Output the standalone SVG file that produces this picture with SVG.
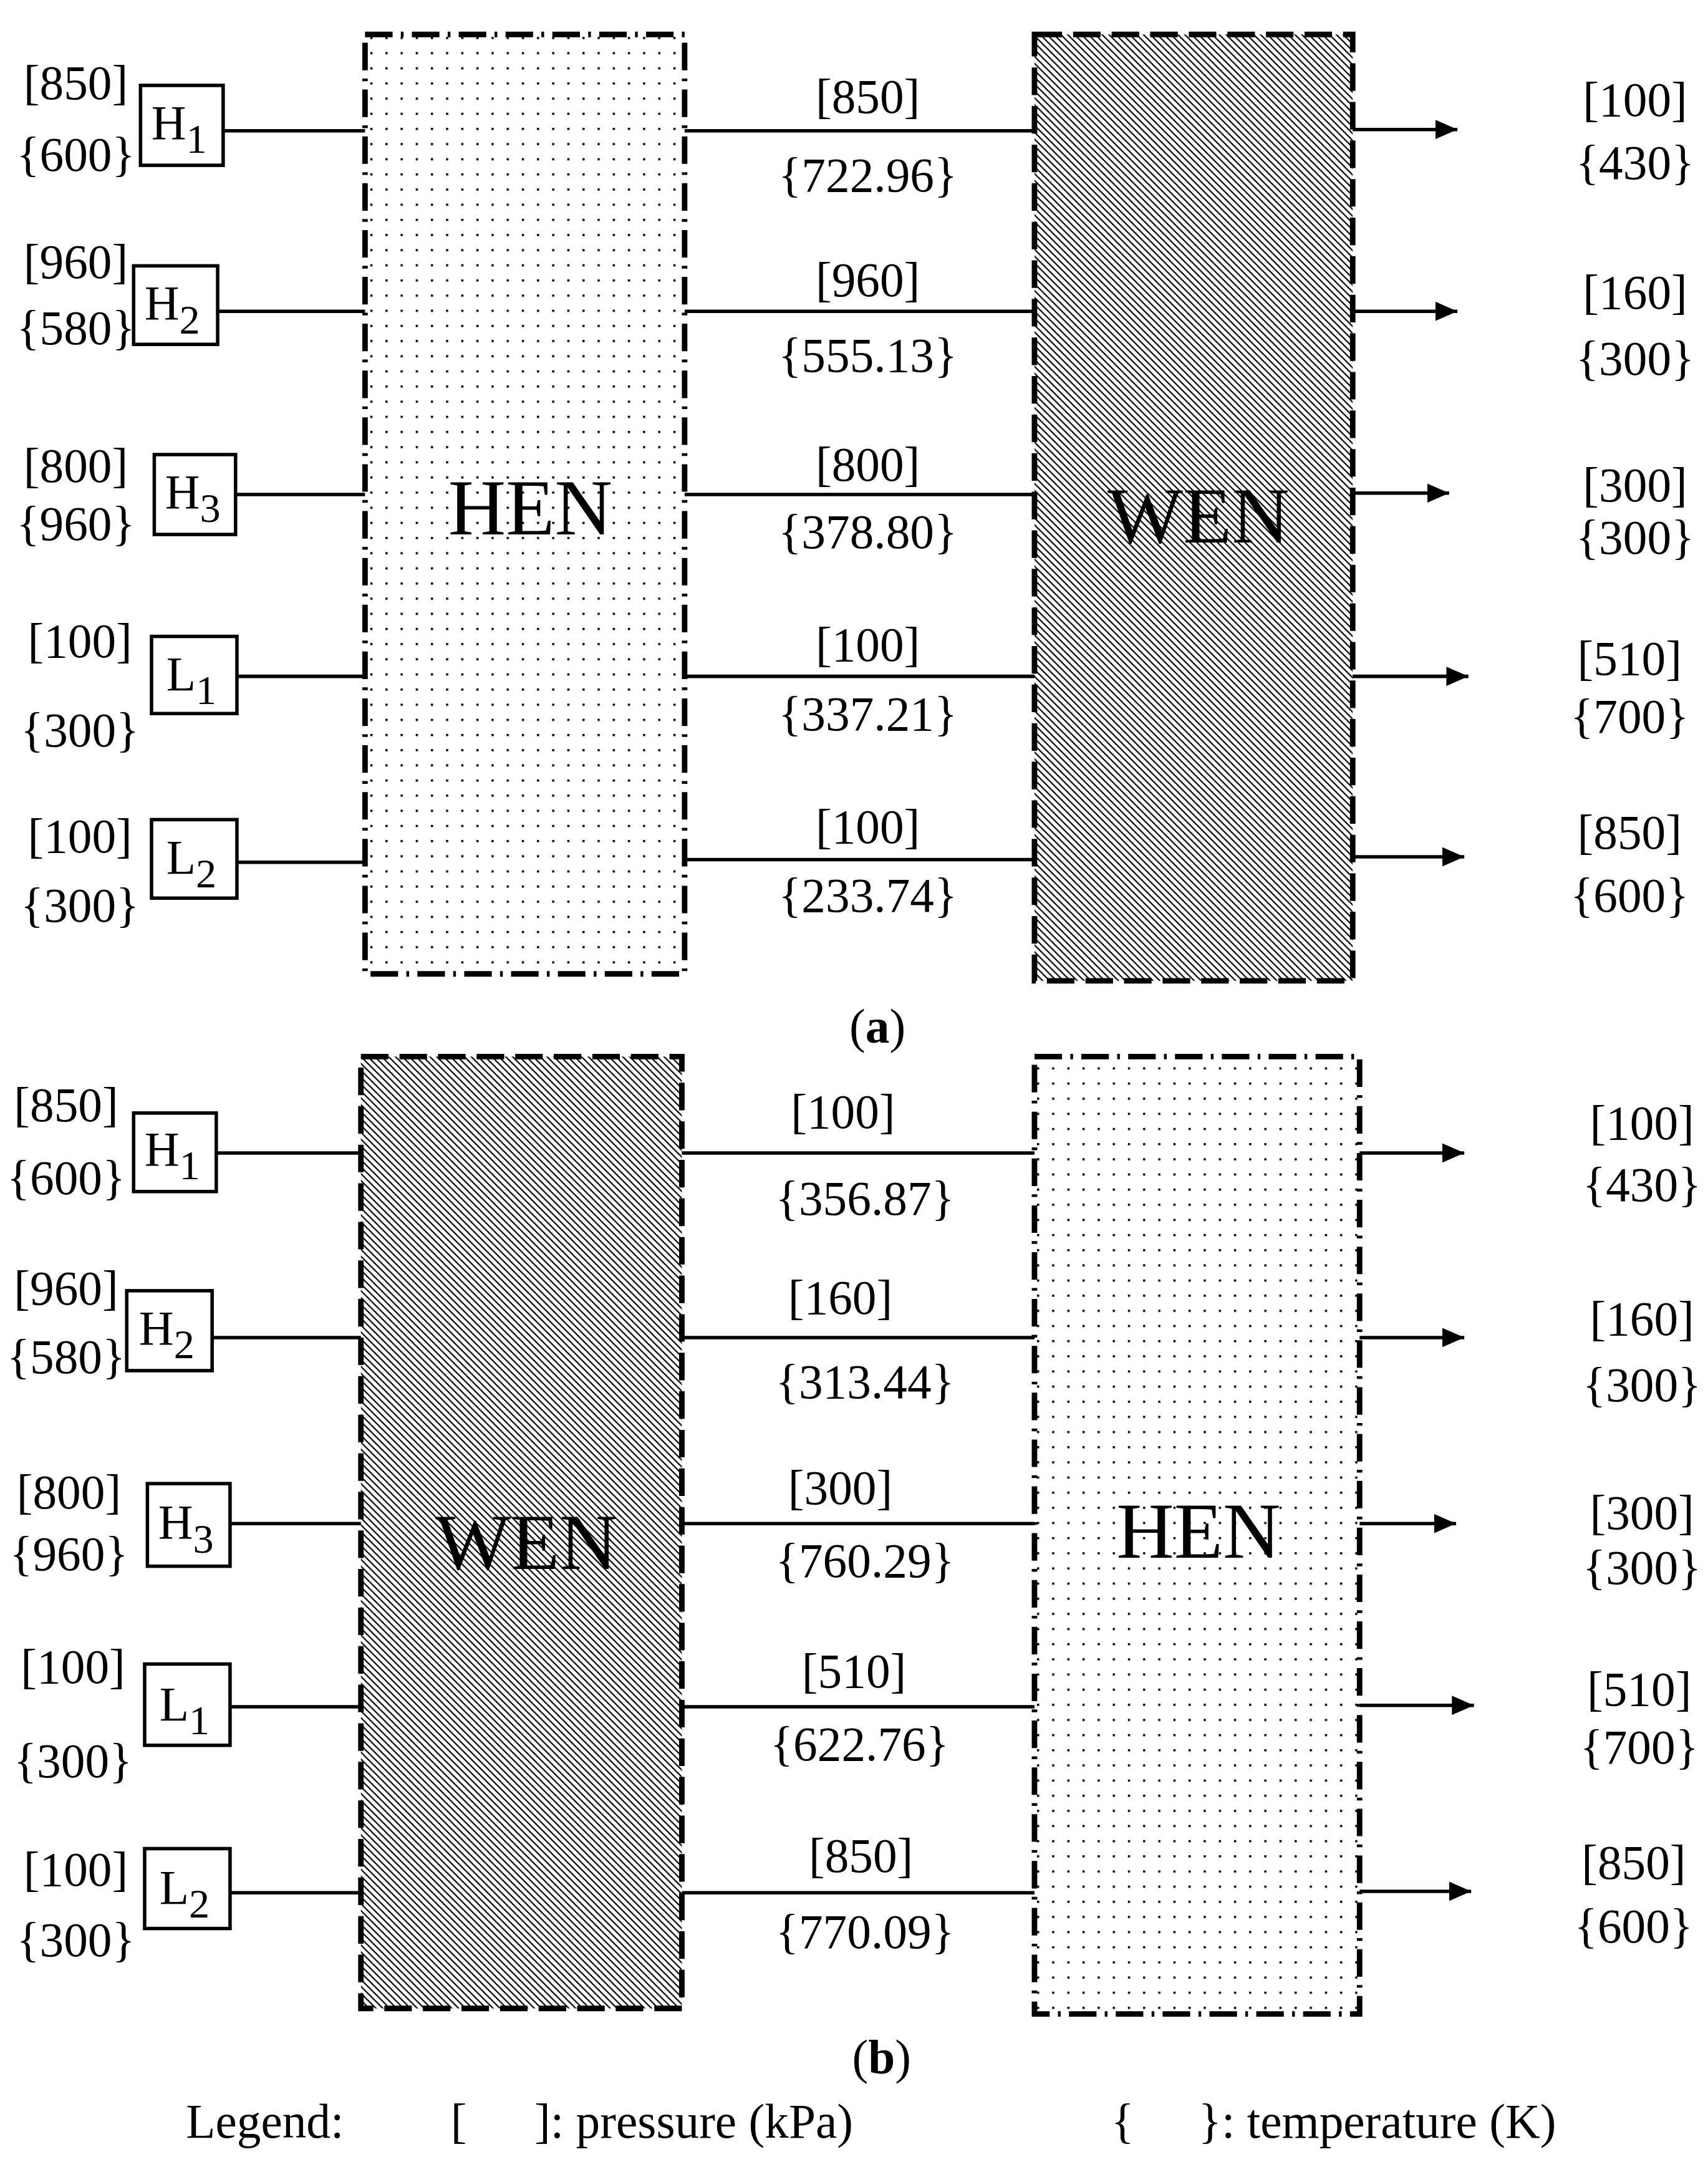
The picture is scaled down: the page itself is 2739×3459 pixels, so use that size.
<svg xmlns="http://www.w3.org/2000/svg" width="2739" height="3459" viewBox="0 0 2739 3459">
<defs>
<pattern id="dots" patternUnits="userSpaceOnUse" width="11" height="11"><rect x="4.8" y="4.8" width="1.6" height="1.6" fill="#000"/></pattern>
<pattern id="hatch" patternUnits="userSpaceOnUse" width="5" height="5"><path d="M-1,-1 L6,6 M-1,4 L1,6 M4,-1 L6,1" stroke="#000" stroke-width="1"/></pattern>
<marker id="arr" markerUnits="userSpaceOnUse" markerWidth="16" markerHeight="14" refX="16" refY="7" orient="auto"><path d="M0,0 L16,7 L0,14 Z" fill="#000"/></marker>
<style>
text{font-family:"Liberation Serif","Times New Roman",serif;font-size:35px;fill:#000;text-anchor:middle}
.big{font-size:58px}
.box{fill:#fff;stroke:#000;stroke-width:2.5}
.blk{stroke-width:4;stroke:#000;stroke-dasharray:20,8}
.hen{stroke-dasharray:20,6,2,6}
.ln{stroke:#000;stroke-width:2.5;fill:none}
.sub{font-size:30px}
</style>
</defs>
<rect width="2739" height="3459" fill="#fff"/>
<g transform="scale(2.209)">
<g id="a-blocks">
<g id="a-HEN"><rect x="265" y="25" width="232" height="682" fill="url(#dots)" class="blk hen"/><text x="385" y="388" class="big">HEN</text></g>
<g id="a-WEN"><rect x="751" y="25" width="231" height="687" fill="url(#hatch)" class="blk"/><text x="870" y="394" class="big">WEN</text></g>
</g>
<g id="a-inputs">
<g id="a-H1"><rect x="102" y="62" width="60" height="58" class="box"/><text x="130" y="101">H<tspan class="sub" dy="10">1</tspan></text><text x="55" y="72">[850]</text><text x="55" y="124">{600}</text></g>
<g id="a-H2"><rect x="97" y="193" width="61" height="57" class="box"/><text x="125" y="232">H<tspan class="sub" dy="10">2</tspan></text><text x="55" y="202">[960]</text><text x="55" y="250">{580}</text></g>
<g id="a-H3"><rect x="112" y="330" width="59" height="58" class="box"/><text x="140" y="369">H<tspan class="sub" dy="10">3</tspan></text><text x="55" y="350">[800]</text><text x="55" y="392">{960}</text></g>
<g id="a-L1"><rect x="110" y="462" width="62" height="56" class="box"/><text x="139" y="501">L<tspan class="sub" dy="10">1</tspan></text><text x="58" y="477">[100]</text><text x="58" y="542">{300}</text></g>
<g id="a-L2"><rect x="110" y="595" width="62" height="57" class="box"/><text x="139" y="634">L<tspan class="sub" dy="10">2</tspan></text><text x="58" y="619">[100]</text><text x="58" y="669">{300}</text></g>
</g>
<g id="a-mid-labels">
<text x="630" y="82">[850]</text><text x="630" y="139">{722.96}</text>
<text x="630" y="215">[960]</text><text x="630" y="270">{555.13}</text>
<text x="630" y="349">[800]</text><text x="630" y="398">{378.80}</text>
<text x="630" y="480">[100]</text><text x="630" y="530">{337.21}</text>
<text x="630" y="612">[100]</text><text x="630" y="662">{233.74}</text>
</g>
<g id="a-outputs">
<text x="1187" y="84">[100]</text><text x="1187" y="130">{430}</text>
<text x="1187" y="224">[160]</text><text x="1187" y="272">{300}</text>
<text x="1187" y="364">[300]</text><text x="1187" y="402">{300}</text>
<text x="1183" y="490">[510]</text><text x="1183" y="532">{700}</text>
<text x="1183" y="616">[850]</text><text x="1183" y="662">{600}</text>
</g>
<g id="b-blocks">
<g id="b-WEN"><rect x="262" y="767" width="233" height="691" fill="url(#hatch)" class="blk"/><text x="382" y="1139" class="big">WEN</text></g>
<g id="b-HEN"><rect x="751" y="767" width="236" height="695" fill="url(#dots)" class="blk hen"/><text x="870" y="1131" class="big">HEN</text></g>
</g>
<g id="b-inputs">
<g id="b-H1"><rect x="97" y="808" width="60" height="57" class="box"/><text x="125" y="846">H<tspan class="sub" dy="10">1</tspan></text><text x="48" y="814">[850]</text><text x="48" y="867">{600}</text></g>
<g id="b-H2"><rect x="92" y="937" width="62" height="58" class="box"/><text x="121" y="976">H<tspan class="sub" dy="10">2</tspan></text><text x="48" y="947">[960]</text><text x="48" y="997">{580}</text></g>
<g id="b-H3"><rect x="107" y="1077" width="60" height="60" class="box"/><text x="135" y="1117">H<tspan class="sub" dy="10">3</tspan></text><text x="50" y="1095">[800]</text><text x="50" y="1140">{960}</text></g>
<g id="b-L1"><rect x="105" y="1208" width="62" height="59" class="box"/><text x="134" y="1249">L<tspan class="sub" dy="10">1</tspan></text><text x="53" y="1222">[100]</text><text x="53" y="1290">{300}</text></g>
<g id="b-L2"><rect x="105" y="1342" width="62" height="58" class="box"/><text x="134" y="1382">L<tspan class="sub" dy="10">2</tspan></text><text x="55" y="1369">[100]</text><text x="55" y="1420">{300}</text></g>
</g>
<g id="b-mid-labels">
<text x="612" y="819">[100]</text><text x="628" y="882">{356.87}</text>
<text x="610" y="954">[160]</text><text x="628" y="1015">{313.44}</text>
<text x="610" y="1092">[300]</text><text x="628" y="1145">{760.29}</text>
<text x="620" y="1225">[510]</text><text x="624" y="1278">{622.76}</text>
<text x="625" y="1359">[850]</text><text x="628" y="1414">{770.09}</text>
</g>
<g id="b-outputs">
<text x="1192" y="827">[100]</text><text x="1192" y="872">{430}</text>
<text x="1192" y="969">[160]</text><text x="1192" y="1017">{300}</text>
<text x="1192" y="1110">[300]</text><text x="1192" y="1150">{300}</text>
<text x="1190" y="1238">[510]</text><text x="1190" y="1280">{700}</text>
<text x="1186" y="1364">[850]</text><text x="1186" y="1410">{600}</text>
</g>
<g id="connectors" class="ln">
<path d="M162,95H265M158,226H265M171,359H265M172,491H265M172,626H265"/>
<path d="M497,95H751M497,226H751M497,359H751M497,491H751M497,624H751"/>
<path d="M982,94H1058" marker-end="url(#arr)"/><path d="M982,226H1058" marker-end="url(#arr)"/><path d="M982,358H1052" marker-end="url(#arr)"/><path d="M982,491H1066" marker-end="url(#arr)"/><path d="M982,622H1063" marker-end="url(#arr)"/>
<path d="M157,837H262M154,971H262M167,1106H262M167,1239H262M167,1374H262"/>
<path d="M495,837H751M495,971H751M495,1106H751M495,1239H751M495,1374H751"/>
<path d="M987,837H1063" marker-end="url(#arr)"/><path d="M987,971H1063" marker-end="url(#arr)"/><path d="M987,1106H1057" marker-end="url(#arr)"/><path d="M987,1238H1070" marker-end="url(#arr)"/><path d="M987,1373H1068" marker-end="url(#arr)"/>
</g>
<g id="captions">
<text x="637" y="757">(<tspan font-weight="bold">a</tspan>)</text>
<text x="640" y="1505">(<tspan font-weight="bold">b</tspan>)</text>
<text x="135" y="1552" style="text-anchor:start">Legend:</text>
<text x="333" y="1552">[</text>
<text x="388" y="1552" style="text-anchor:start">]: pressure (kPa)</text>
<text x="815" y="1552">{</text>
<text x="870" y="1552" style="text-anchor:start">}: temperature (K)</text>
</g>
</g>
</svg>
